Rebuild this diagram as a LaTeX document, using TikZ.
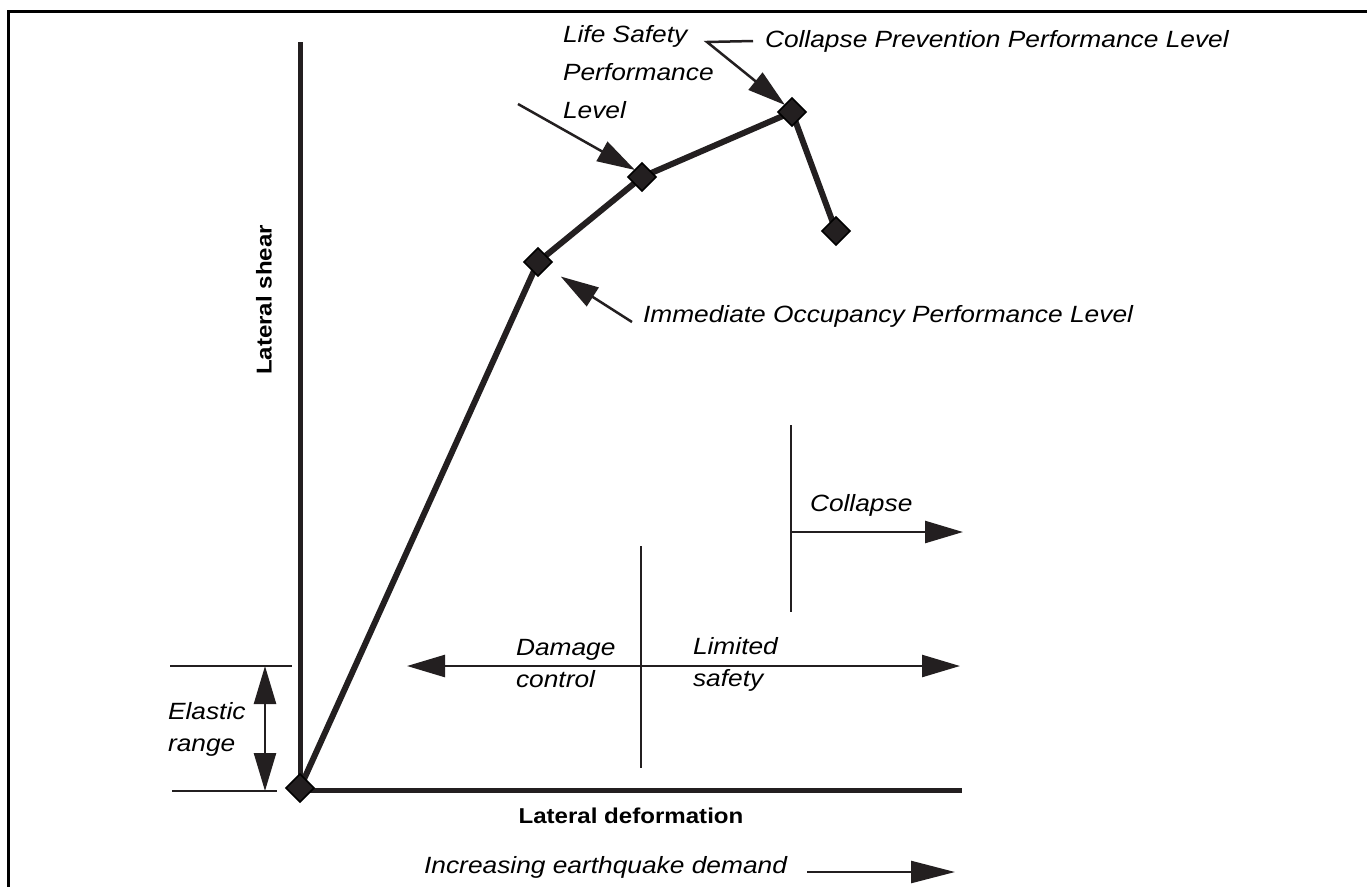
\documentclass[tikz,border=0pt]{standalone}
\usepackage{fontspec}
\setmainfont{Liberation Sans}[FakeStretch=1.12]
\usetikzlibrary{arrows.meta,shapes.geometric}
\definecolor{ink}{HTML}{231F20}
\begin{document}
\begin{tikzpicture}[x=1pt,y=-1pt,
  every node/.style={inner sep=0pt, outer sep=0pt, text=black},
  lbl/.style={font=\fontsize{23.5}{32}\selectfont\itshape, align=left},
  axlbl/.style={font=\fontsize{21.5}{24}\selectfont\bfseries},
  pt/.style={diamond, draw=black, fill=ink, line width=1.5pt,
    minimum width=28pt, minimum height=28pt, inner sep=0pt},
  thin/.style={draw=ink, line width=2.5pt},
  tip/.style={-{Triangle[length=38pt,width=22pt]}},
  tips/.style={{Triangle[length=38pt,width=22pt]}-{Triangle[length=38pt,width=22pt]}},
]
\useasboundingbox (0,0) rectangle (1367,887);
\fill[white] (0,0) rectangle (1367,887);
% frame
\draw[black, line width=3pt] (1367,11) -- (8,11) -- (8,887);

% axes
\coordinate (O) at (300,790);
\coordinate (ytop) at (300,42);
\coordinate (xend) at (962,790);
\draw[ink, line width=5pt] (ytop) -- (O) -- (xend);

% capacity curve
\coordinate (c0) at (300,788);
\coordinate (c1) at (538,262);
\coordinate (c2) at (642,177);
\coordinate (c3) at (792,112);
\coordinate (c4) at (836,231);
\draw[ink, line width=6pt, line join=round] (c0) -- (c1) -- (c2) -- (c3) -- (c4);
\foreach \i in {0,...,4} \node[pt] (p\i) at (c\i) {};

% performance level labels
\node[lbl, anchor=west] (cpl) at (765,41) {Collapse Prevention Performance Level};
\coordinate (cpk) at (707,42);
\draw[thin, tip] ([xshift=-12pt]cpl.west) -- (cpk) -- (p3.north west);

\node[lbl, anchor=west, font=\fontsize{23.5}{38}\selectfont\itshape] (lsl) at (563,72) {Life Safety\\Performance\\Level};
\coordinate (lsk) at (518,104);
\draw[thin, tip] (lsk) -- (p2.north west);

\node[lbl, anchor=west] (iol) at (643,316) {Immediate Occupancy Performance Level};
\coordinate (iok) at (632,322);
\draw[thin, tip, shorten >=27pt] (iok) -- (p1.center);

% damage ranges
\coordinate (dl) at (407,666);
\coordinate (dr) at (960,666);
\draw[thin, tips] (dl) -- (dr);
\coordinate (dvt) at (641,546);
\coordinate (dvb) at (641,768);
\draw[thin] (dvt) -- (dvb);
\node[lbl, anchor=west] (dcl) at (516,664) {Damage\\control};
\node[lbl, anchor=west] (lsf) at (693,664) {Limited\\safety};

\coordinate (cvt) at (791,425);
\coordinate (cvb) at (791,612);
\draw[thin] (cvt) -- (cvb);
\coordinate (cas) at (791,532);
\coordinate (cae) at (963,532);
\draw[thin, tip] (cas) -- (cae);
\node[lbl, anchor=west] (col) at (810,505) {Collapse};

% elastic range
\coordinate (et1) at (170,666);
\coordinate (et2) at (292,666);
\coordinate (eb1) at (172,791);
\coordinate (eb2) at (277,791);
\draw[thin] (et1) -- (et2);
\draw[thin] (eb1) -- (eb2);
\coordinate (ea1) at (265,666);
\coordinate (ea2) at (265,791);
\draw[thin, tips] (ea1) -- (ea2);
\node[lbl, anchor=west] (erl) at (168,729) {Elastic\\range};

% axis titles
\node[axlbl] (xl) at (631,816) {Lateral deformation};
\node[axlbl, rotate=90] (yl) at (264,300) {Lateral shear};

% demand arrow
\node[lbl, anchor=east] (dem) at (787,867) {Increasing earthquake demand};
\coordinate (ds) at (807,872);
\coordinate (de) at (955,872);
\draw[thin, -{Triangle[length=44pt,width=22pt]}] (ds) -- (de);
\end{tikzpicture}
\end{document}
